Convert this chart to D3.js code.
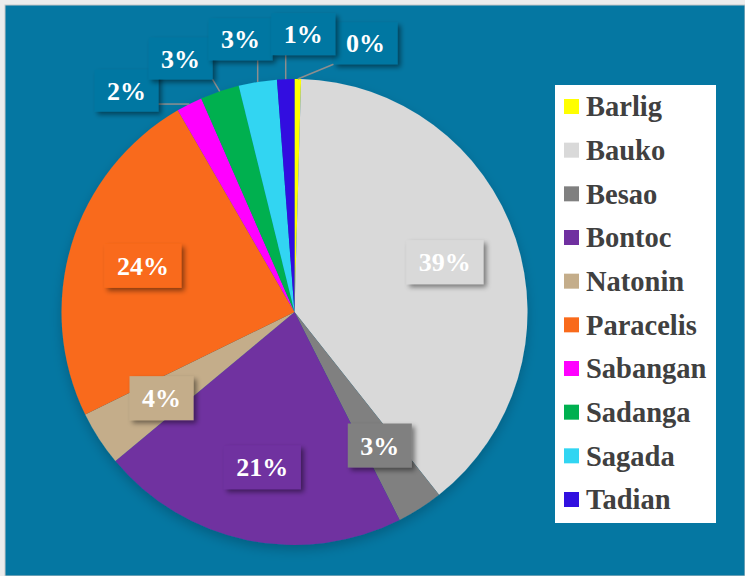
<!DOCTYPE html>
<html>
<head>
<meta charset="utf-8">
<script src="https://cdn.jsdelivr.net/npm/d3@7"></script>
<style>
  body { margin: 0; background: #ececec; }
  svg { display: block; }
</style>
</head>
<body>
<div id="chart"></div>
<script>
// municipalities, share of total (%)
const names = ["Barlig", "Bauko", "Besao", "Bontoc", "Natonin", "Paracelis", "Sabangan", "Sadanga", "Sagada", "Tadian"];
const values = [0.45, 38.9, 3.2, 21.4, 3.8, 23.9, 1.8, 2.7, 2.65, 1.2];
const colors = ["#FFFF00", "#D9D9D9", "#808080", "#7030A0", "#C4AD8A", "#F96A1B", "#FF00FF", "#00B050", "#31D5F2", "#3110E0"];

const width = 745, height = 576;
const bg = "#0577A2";
const cx = 294.5, cy = 312, r = 233;
const fmt = d3.format(".0%");
const serif = "'Liberation Serif', 'Times New Roman', serif";

let svg = d3.select("#chart")
    .append("svg")
    .attr("width", width)
    .attr("height", height);

let defs = svg.append("defs");
let shadow = defs.append("filter").attr("id", "shadow")
    .attr("x", "-30%").attr("y", "-30%").attr("width", "160%").attr("height", "160%");
shadow.append("feDropShadow")
    .attr("dx", 3).attr("dy", 3).attr("stdDeviation", 2.5)
    .attr("flood-color", "#000").attr("flood-opacity", 0.45);
let pieShadow = defs.append("filter").attr("id", "pieShadow")
    .attr("x", "-20%").attr("y", "-20%").attr("width", "140%").attr("height", "140%");
pieShadow.append("feDropShadow")
    .attr("dx", 0).attr("dy", 5).attr("stdDeviation", 6)
    .attr("flood-color", "#000").attr("flood-opacity", 0.2);

svg.append("rect")
    .attr("x", 5).attr("y", 5)
    .attr("width", width - 5).attr("height", height - 5)
    .attr("fill", bg)
    .attr("stroke", "#c8c8c8").attr("stroke-width", 1);

let data = names.map((n, i) => ({name: n, value: values[i], color: colors[i]}));

let pie = d3.pie().sort(null).value(d => d.value);
let arcs = pie(data);
let arc = d3.arc().innerRadius(0).outerRadius(r);
let labelArc = d3.arc().innerRadius(r * 0.68).outerRadius(r * 0.68);

let g = svg.append("g").attr("transform", "translate(" + cx + "," + cy + ")");

g.append("g")
    .attr("filter", "url(#pieShadow)")
    .selectAll("path")
    .data(arcs)
    .enter()
    .append("path")
    .attr("d", arc)
    .attr("fill", d => d.data.color);

// outside labels for the small slices, spread evenly in angle
let outer = arcs.filter(d => d.data.value < 3);
outer.forEach(d => {
    let m = (d.startAngle + d.endAngle) / 2;
    d.mid = m < Math.PI ? m + 2 * Math.PI : m;
});
outer.sort((a, b) => a.mid - b.mid);
let meanMid = d3.mean(outer, d => d.mid);
let gap = 13 * Math.PI / 180;
let outerR = 278;
outer.forEach((d, i) => {
    let a = meanMid + (i - (outer.length - 1) / 2) * gap;
    d.lx = outerR * Math.sin(a);
    d.ly = -outerR * Math.cos(a);
    d.outside = true;
});
arcs.filter(d => d.data.value >= 3).forEach(d => {
    let c = labelArc.centroid(d);
    d.lx = c[0];
    d.ly = c[1];
    d.outside = false;
});

let lines = g.append("g");
let labels = g.append("g");

arcs.forEach(d => {
    let lg = labels.append("g")
        .attr("transform", "translate(" + d.lx + "," + d.ly + ")");
    let rect = lg.append("rect").attr("filter", "url(#shadow)");
    let t = lg.append("text")
        .attr("text-anchor", "middle")
        .attr("dy", "0.35em")
        .attr("font-family", serif)
        .attr("font-weight", "bold")
        .attr("font-size", 26)
        .attr("fill", "white")
        .text(fmt(d.data.value / 100));
    let w = t.node().getComputedTextLength() + 25;
    let h = d.outside ? 42 : 44;
    rect.attr("x", -w / 2).attr("y", -h / 2)
        .attr("width", w).attr("height", h)
        .attr("fill", d.outside ? bg : d.data.color);

    if (d.outside) {
        let m = (d.startAngle + d.endAngle) / 2;
        let px = r * Math.sin(m), py = -r * Math.cos(m);
        let qx = Math.max(d.lx - w / 2, Math.min(px, d.lx + w / 2));
        let qy = Math.max(d.ly - h / 2, Math.min(py, d.ly + h / 2));
        lines.append("line")
            .attr("x1", px).attr("y1", py)
            .attr("x2", qx).attr("y2", qy)
            .attr("stroke", "#8e8e8e")
            .attr("stroke-width", 1.5);
    }
});

// legend
let legend = svg.append("g").attr("transform", "translate(555,85)");
legend.append("rect")
    .attr("width", 161).attr("height", 438)
    .attr("fill", "white");

let y = d3.scalePoint().domain(names).range([22, 415]);

let item = legend.selectAll(".item")
    .data(data)
    .enter()
    .append("g")
    .attr("class", "item")
    .attr("transform", d => "translate(0," + y(d.name) + ")");
item.append("rect")
    .attr("x", 9).attr("y", -8)
    .attr("width", 15).attr("height", 15)
    .attr("fill", d => d.color);
item.append("text")
    .attr("x", 31)
    .attr("dy", "0.33em")
    .attr("font-family", serif)
    .attr("font-weight", "bold")
    .attr("font-size", 28.5)
    .attr("fill", "#404040")
    .text(d => d.name);
</script>
</body>
</html>
